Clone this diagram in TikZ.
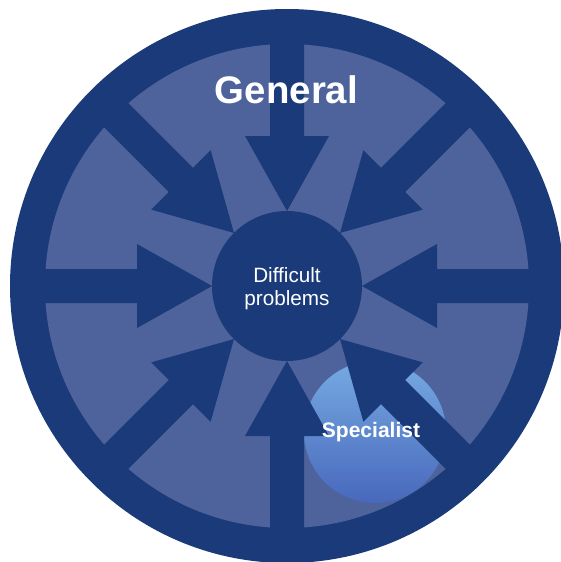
\documentclass[tikz,border=0pt]{standalone}
\usepackage{fontspec}
\setmainfont{Liberation Sans}
\definecolor{ringblue}{RGB}{26,58,122}
\definecolor{fieldblue}{RGB}{78,99,155}
\definecolor{spectop}{RGB}{118,170,226}
\definecolor{specbot}{RGB}{72,104,188}
\tikzset{
  txt/.style={text=white,inner sep=0pt},
  core/.style={circle,fill=ringblue,minimum size=150pt,inner sep=0pt}
}
\newcommand{\inarrow}[1]{\fill[ringblue,shift={(c)},rotate=#1] (75,0) -- (150,42) -- (150,17) -- (262,17) -- (262,-17) -- (150,-17) -- (150,-42) -- cycle;}

\begin{document}
\begin{tikzpicture}[x=1pt,y=-1pt]
	\useasboundingbox (0,0) rectangle (561,562);
	\clip (0,0) rectangle (561,562);
	\coordinate (c) at (287,286);
	\fill[ringblue] (c) circle[radius=277pt];
	\fill[fieldblue] (c) circle[radius=242pt];
	\node[circle,minimum size=142pt,inner sep=0pt,top color=spectop,bottom color=specbot] (spec) at (375,432) {};
	\inarrow{0} \inarrow{45} \inarrow{90} \inarrow{135}
	\inarrow{180} \inarrow{225} \inarrow{270} \inarrow{315}
	\node[core] (hub) at (c) {};
	\node[txt,align=center,font=\fontsize{20.7}{23}\selectfont] (prob) at (287,289) {Difficult\\problems};
	\node[txt,anchor=base,font=\fontsize{38.4}{46}\selectfont\bfseries] (general) at (286.5,103) {General};
	\node[txt,anchor=base,font=\fontsize{21}{25}\selectfont\bfseries] (speclabel) at (371,437) {Specialist};
\end{tikzpicture}
\end{document}
